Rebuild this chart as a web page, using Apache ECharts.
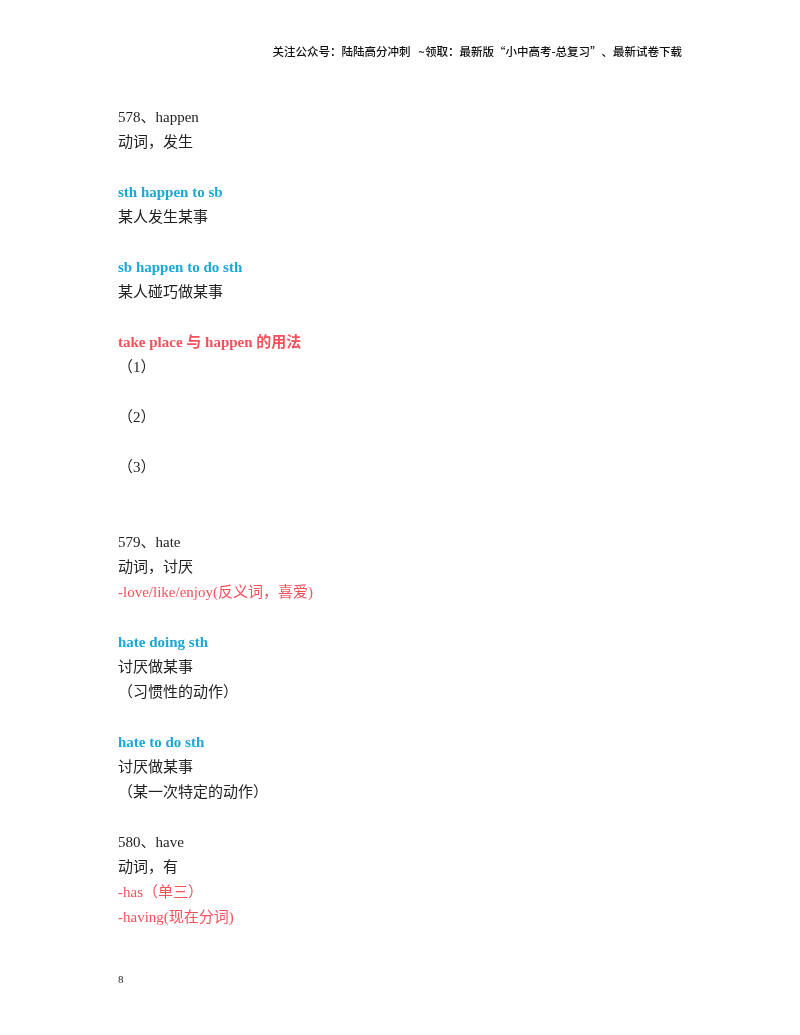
<!DOCTYPE html>
<html>
<head>
<meta charset="utf-8">
<script src="https://cdn.jsdelivr.net/npm/echarts@6/dist/echarts.min.js"></script>
<style>html,body{margin:0;padding:0;background:#fff}#main{width:800px;height:1035px}</style>
</head>
<body>
<div id="main"></div>
<script>
var headerText = '关注公众号：陆陆高分冲刺   ~领取：最新版“小中高考-总复习”、最新试卷下载';
var pageNumber = '8';
// each line: [text, kind]; kind: n = normal, b = blue phrase, r = red heading, s = red synonym
var lines = [
  ['578、happen', 'n'], ['动词，发生', 'n'], ['', 'n'],
  ['sth happen to sb', 'b'], ['某人发生某事', 'n'], ['', 'n'],
  ['sb happen to do sth', 'b'], ['某人碰巧做某事', 'n'], ['', 'n'],
  ['take place 与 happen 的用法', 'r'], ['（1）', 'n'], ['', 'n'],
  ['（2）', 'n'], ['', 'n'], ['（3）', 'n'], ['', 'n'], ['', 'n'],
  ['579、hate', 'n'], ['动词，讨厌', 'n'], ['-love/like/enjoy(反义词，喜爱)', 's'], ['', 'n'],
  ['hate doing sth', 'b'], ['讨厌做某事', 'n'], ['（习惯性的动作）', 'n'], ['', 'n'],
  ['hate to do sth', 'b'], ['讨厌做某事', 'n'], ['（某一次特定的动作）', 'n'], ['', 'n'],
  ['580、have', 'n'], ['动词，有', 'n'], ['-has（单三）', 's'], ['-having(现在分词)', 's']
];

var styles = {
  n: { fill: '#222', fontWeight: 'normal' },
  b: { fill: '#1ba8d6', fontWeight: 'bold' },
  r: { fill: '#f2525c', fontWeight: 'bold' },
  s: { fill: '#f2525c', fontWeight: 'normal' }
};
var fontFam = '"Liberation Serif", "Noto Sans CJK SC", serif';

var elements = [{
  type: 'text', right: 118, top: 46,
  style: { text: headerText, font: '500 11.5px "Noto Sans CJK SC", sans-serif', fill: '#111' }
}, {
  type: 'text', left: 118, top: 975,
  style: { text: pageNumber, font: '11px "Liberation Serif", serif', fill: '#222' }
}];

lines.forEach(function (ln, i) {
  if (!ln[0]) return;
  var st = styles[ln[1]];
  elements.push({
    type: 'text', left: 118, top: 111 + 25 * i,
    style: {
      text: ln[0], fill: st.fill, verticalAlign: 'middle',
      font: st.fontWeight + ' 15px ' + fontFam
    }
  });
});

var chart = echarts.init(document.getElementById('main'));
chart.setOption({ backgroundColor: '#fff', graphic: { elements: elements } });
</script>
</body>
</html>
